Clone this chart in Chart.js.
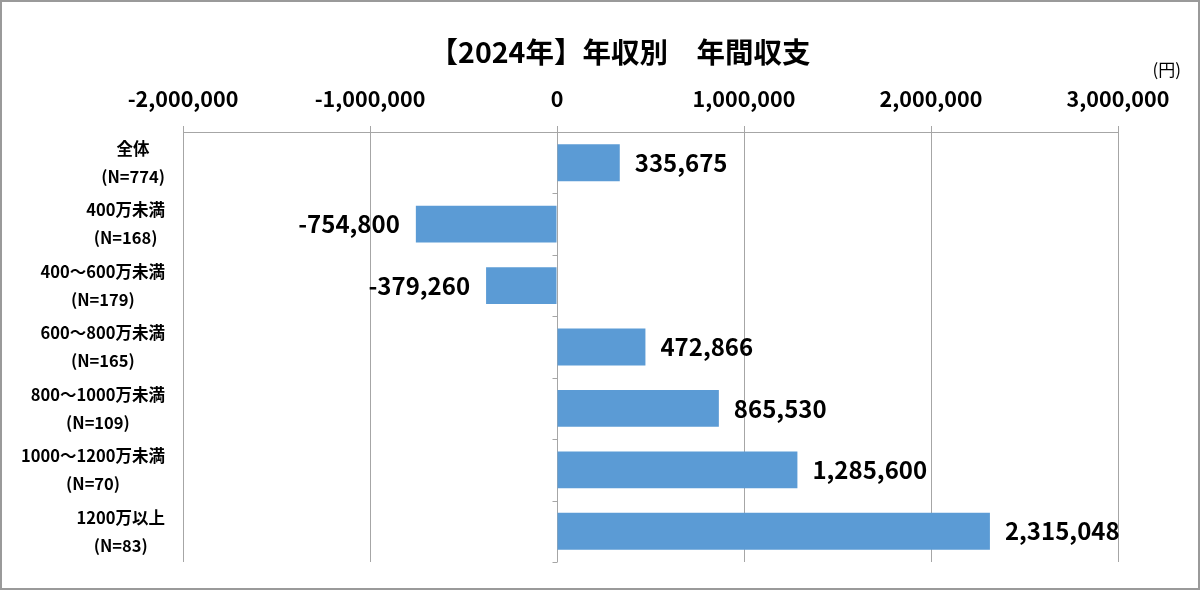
<!DOCTYPE html>
<html>
<head>
<meta charset="utf-8">
<script src="https://cdn.jsdelivr.net/npm/chart.js@4.4.1/dist/chart.umd.min.js"></script>
<style>
  body { margin: 0; background: #fff; }
  #wrap { width: 1200px; height: 590px; }
</style>
</head>
<body>
<div id="wrap"><canvas id="ctx"></canvas></div>
<script>
const categories = ['全体', '400万未満', '400〜600万未満', '600〜800万未満', '800〜1000万未満', '1000〜1200万未満', '1200万以上'];
const sampleSizes = ['(N=774)', '(N=168)', '(N=179)', '(N=165)', '(N=109)', '(N=70)', '(N=83)'];
const balance = [335675, -754800, -379260, 472866, 865530, 1285600, 2315048];
const xTicks = [-2000000, -1000000, 0, 1000000, 2000000, 3000000];
const title = '【2024年】年収別　年間収支';
const unit = '(円)';

const FONT = '"Noto Sans CJK JP", "Noto Sans", sans-serif';
const GRID = '#a6a6a6';

Chart.defaults.font.family = FONT;
Chart.defaults.color = '#000';

const fmt = v => v.toLocaleString('en-US');

// frame, title, unit, category labels, zero-line ticks, value labels
const decorations = {
  id: 'decorations',
  beforeDraw(chart) {
    const { ctx, width, height } = chart;
    ctx.save();
    ctx.fillStyle = '#fff';
    ctx.fillRect(0, 0, width, height);
    ctx.restore();
  },
  afterDraw(chart) {
    const { ctx, width, height } = chart;
    const x = chart.scales.x;
    const y = chart.scales.y;
    ctx.save();

    ctx.strokeStyle = '#9a9a9a';
    ctx.lineWidth = 2;
    ctx.strokeRect(1, 1, width - 2, height - 2);

    ctx.fillStyle = '#000';
    ctx.textBaseline = 'middle';
    ctx.font = 'bold 28.5px ' + FONT;
    ctx.textAlign = 'center';
    ctx.fillText(title, 620, 52);

    ctx.font = '17px ' + FONT;
    ctx.textAlign = 'right';
    ctx.fillText(unit, 1181, 70);

    // category labels: each block right aligned, lines centred in the block
    ctx.font = 'bold 16.5px ' + FONT;
    ctx.textAlign = 'center';
    categories.forEach((c, i) => {
      const cy = y.getPixelForValue(i);
      const w = Math.max(ctx.measureText(c).width, ctx.measureText(sampleSizes[i]).width);
      const cx = x.left - 18 - w / 2;
      ctx.fillText(c, cx, cy - 14);
      ctx.fillText(sampleSizes[i], cx, cy + 14);
    });

    // short category ticks on the zero line
    const x0 = Math.round(x.getPixelForValue(0)) + 0.5;
    const step = (y.bottom - y.top) / categories.length;
    ctx.strokeStyle = GRID;
    ctx.lineWidth = 1;
    ctx.beginPath();
    for (let k = 1; k <= categories.length; k++) {
      const yy = Math.round(y.top + k * step) + 0.5;
      ctx.moveTo(x0 - 5, yy);
      ctx.lineTo(x0, yy);
    }
    ctx.stroke();

    // value labels
    ctx.font = 'bold 24px ' + FONT;
    const meta = chart.getDatasetMeta(0);
    meta.data.forEach((bar, i) => {
      const v = balance[i];
      if (v >= 0) {
        ctx.textAlign = 'left';
        ctx.fillText(fmt(v), bar.x + 15, bar.y);
      } else {
        ctx.textAlign = 'right';
        ctx.fillText(fmt(v), bar.x - 16, bar.y);
      }
    });
    ctx.restore();
  },
};

new Chart(document.getElementById('ctx').getContext('2d'), {
  type: 'bar',
  data: {
    labels: categories,
    datasets: [{
      data: balance,
      backgroundColor: '#5b9bd5',
      borderWidth: 0,
      barPercentage: 0.6,
      categoryPercentage: 1,
    }],
  },
  options: {
    indexAxis: 'y',
    responsive: true,
    maintainAspectRatio: false,
    animation: false,
    layout: {
      padding: { left: 0, right: 82, top: 68, bottom: 28 },
    },
    plugins: {
      legend: { display: false },
      tooltip: { enabled: false },
    },
    scales: {
      x: {
        position: 'top',
        min: xTicks[0],
        max: xTicks[xTicks.length - 1],
        afterBuildTicks: (scale) => { scale.ticks = xTicks.map(v => ({ value: v })); },
        afterFit: (scale) => { scale.height = 64; },
        ticks: {
          font: { size: 21.5, weight: 'bold' },
          padding: 14,
          maxRotation: 0,
          callback: v => fmt(v),
        },
        grid: { color: GRID, tickLength: 6, lineWidth: 1 },
        border: { display: true, color: GRID },
      },
      y: {
        afterFit: (scale) => { scale.width = 183; },
        ticks: { display: false },
        grid: { display: false },
        border: { display: false },
      },
    },
  },
  plugins: [decorations],
});
</script>
</body>
</html>
